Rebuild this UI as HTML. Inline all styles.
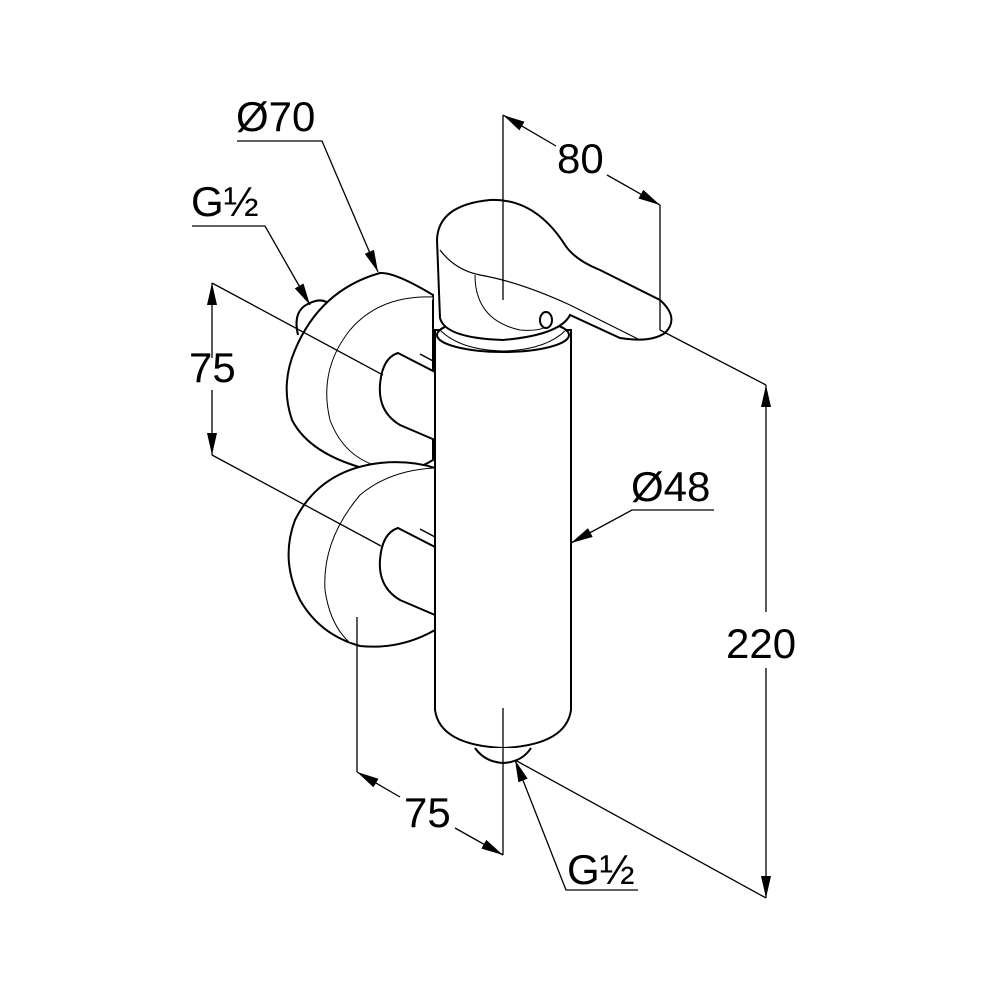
<!DOCTYPE html>
<html><head><meta charset="utf-8"><style>
html,body{margin:0;padding:0;background:#fff}
svg{display:block}
text{font-family:"Liberation Sans",sans-serif;font-size:42px;fill:#000}
</style></head><body>
<svg width="1000" height="1000" viewBox="0 0 1000 1000">
<defs>
<marker id="a" viewBox="0 0 22 10" refX="22" refY="5" markerWidth="22" markerHeight="10" markerUnits="userSpaceOnUse" orient="auto"><path d="M0,0L22,5L0,10z" fill="#000"/></marker>
<marker id="b" viewBox="0 0 22 10" refX="0" refY="5" markerWidth="22" markerHeight="10" markerUnits="userSpaceOnUse" orient="auto"><path d="M22,0L0,5L22,10z" fill="#000"/></marker>
</defs>
<g fill="#fff" stroke="#000" stroke-width="2">
<path d="M298,335Q292,310 310,303Q323,297 330,305"/>
<path d="M380,273Q395,272 433,295V460Q400,480 370,470Q310,455 292,420Q280,385 295,350Q320,290 380,273Z"/>
<path d="M433,297Q380,295 350,330Q318,370 330,420Q345,460 385,468" stroke-width="1"/>
<path d="M398,353L435,372V440L400,425Q378,412 380,385Q382,358 398,353Z"/>
<path d="M420,354L435,362" stroke-width="1.5"/>
<path d="M435,468Q410,460 380,463Q320,470 295,520Q280,560 300,600Q320,635 360,646Q400,650 435,630Z"/>
<path d="M435,468Q390,470 360,495Q322,540 325,590Q330,625 350,643" stroke-width="1"/>
<path d="M398,528L435,547V615L400,600Q378,587 380,560Q382,533 398,528Z"/>
<path d="M420,529L435,537" stroke-width="1.5"/>
<path d="M435,330V710Q440,745 503,748Q566,745 571,710V330Z"/>
<ellipse cx="503" cy="335" rx="66" ry="17"/>
<path d="M440,330Q460,350 503,351Q546,350 566,330" stroke-width="1"/>
<path d="M475,748Q485,762 503,763Q522,762 531,748" />
<path d="M437,240Q438,205 490,200Q535,198 565,245Q575,260 600,270L660,300Q680,318 665,333Q650,343 620,338L570,315Q560,335 503,340Q445,338 440,318Z"/>
<path d="M440,250Q455,270 480,275Q520,282 570,305L640,340" stroke-width="1.2"/>
<path d="M475,275Q475,320 520,330Q545,332 552,322" stroke-width="1"/>
<ellipse cx="546" cy="320" rx="6" ry="8"/>
</g>
<g fill="none" stroke="#000" stroke-width="1.3">
<path d="M237,141H322L378,272" marker-end="url(#a)"/>
<path d="M192,226H265L310,305" marker-end="url(#a)"/>
<path d="M212,283V358" marker-start="url(#b)"/>
<path d="M212,390V455" marker-end="url(#a)"/>
<path d="M212,283L383,375M212,455L381,546"/>
<path d="M503,115V300M660,205V330"/>
<path d="M503,115L556,146" marker-start="url(#b)"/>
<path d="M607,175L660,205" marker-end="url(#a)"/>
<path d="M660,330L766,385M515,760L766,898"/>
<path d="M766,385V612" marker-start="url(#b)"/>
<path d="M766,668V898" marker-end="url(#a)"/>
<path d="M714,510H632L571,543" marker-end="url(#a)"/>
<path d="M357,617V772M503,708V855"/>
<path d="M357,772L400,797" marker-start="url(#b)"/>
<path d="M455,828L503,855" marker-end="url(#a)"/>
<path d="M638,890H566L515,760" marker-end="url(#a)"/>
</g>
<text x="236" y="131">Ø70</text>
<text x="191" y="216">G½</text>
<text x="189" y="382">75</text>
<text x="557" y="173">80</text>
<text x="631" y="501">Ø48</text>
<text x="726" y="658">220</text>
<text x="404" y="827">75</text>
<text x="567" y="884">G½</text>
</svg>
</body></html>
